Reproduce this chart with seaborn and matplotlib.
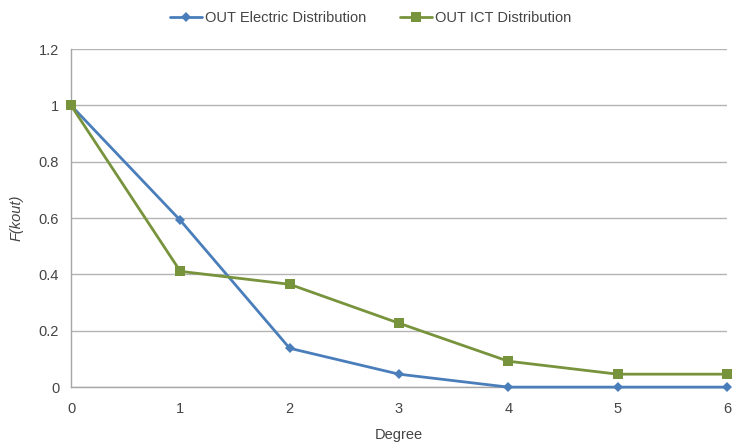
import pandas as pd
import numpy as np
import matplotlib.pyplot as plt
import seaborn as sns

# values
degree = [0, 1, 2, 3, 4, 5, 6]
electric = [1.0, 0.592, 0.138, 0.046, 0.0, 0.0, 0.0]
ict = [1.0, 0.411, 0.365, 0.227, 0.092, 0.046, 0.046]
series_names = ["OUT Electric Distribution", "OUT ICT Distribution"]

df = pd.DataFrame({
    "Degree": degree * 2,
    "F": electric + ict,
    "series": [series_names[0]] * len(degree) + [series_names[1]] * len(degree),
})

sns.set_style("white")
plt.rcParams['font.family'] = ['Liberation Sans', 'DejaVu Sans']

fig = plt.figure(figsize=(7.32, 4.46), dpi=100)
ax = fig.add_axes([0.097, 0.132, 0.896, 0.758])

palette = {series_names[0]: "#4a7ebb", series_names[1]: "#77933c"}
markers = {series_names[0]: "D", series_names[1]: "s"}
sizes = {series_names[0]: 5, series_names[1]: 7}

for name in series_names:
    sub = df[df["series"] == name]
    sns.lineplot(data=sub, x="Degree", y="F", ax=ax, color=palette[name],
                 marker=markers[name], markersize=sizes[name], linewidth=2,
                 markeredgewidth=0, label=name, zorder=3)

ax.set_xlim(0, 6)
ax.set_ylim(0, 1.2)
ax.set_xticks(degree)
yt = [0, 0.2, 0.4, 0.6, 0.8, 1.0, 1.2]
ax.set_yticks(yt)
ax.set_yticklabels(["0", "0.2", "0.4", "0.6", "0.8", "1", "1.2"])
ax.yaxis.grid(True, color="#b3b3b3", linewidth=1)
ax.xaxis.grid(False)
for s in ["top", "right"]:
    ax.spines[s].set_visible(False)
for s in ["left", "bottom"]:
    ax.spines[s].set_color("#a6a6a6")
    ax.spines[s].set_linewidth(1)
ax.tick_params(axis="both", colors="#a6a6a6", labelcolor="#444444",
               labelsize=10.5, length=5, width=1, direction="out")
ax.tick_params(axis="x", pad=6)
for line in ax.lines:
    line.set_clip_on(False)

ax.set_xlabel("Degree", fontsize=10.5, color="#444444", labelpad=8)
ax.set_ylabel("F(kout)", fontsize=10.5, color="#444444", style="italic", labelpad=11)

ax.legend(loc="center", bbox_to_anchor=(0.457, 1.092), ncol=2, frameon=False,
          fontsize=10.5, handlelength=2.2, handletextpad=0.2, columnspacing=2.3,
          labelcolor="#444444")

fig.savefig("out.png", dpi=100)
